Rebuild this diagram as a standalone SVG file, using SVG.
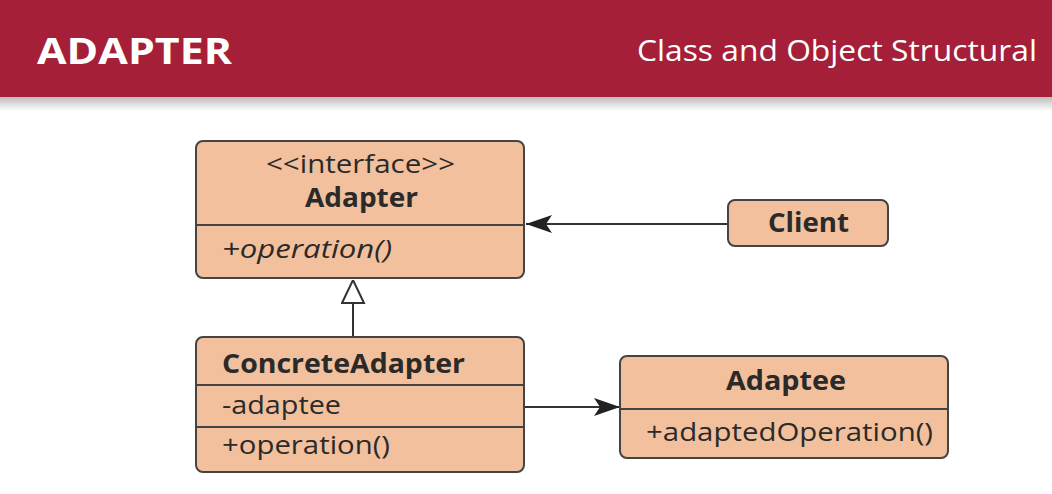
<svg xmlns="http://www.w3.org/2000/svg" width="1052" height="494" viewBox="0 0 1052 494">
<defs>
<linearGradient id="shadow" x1="0" y1="0" x2="0" y2="1">
<stop offset="0" stop-color="#bdbdbd"/>
<stop offset="1" stop-color="#ffffff"/>
</linearGradient>
<marker id="filled" viewBox="0 0 26 18" refX="26" refY="9" markerWidth="26" markerHeight="18" markerUnits="userSpaceOnUse" orient="auto">
<path d="M0,0 L26,9 L0,18 L6,9 Z" fill="#222"/>
</marker>
<marker id="hollow" viewBox="0 0 24 26" refX="24" refY="12" markerWidth="24" markerHeight="26" markerUnits="userSpaceOnUse" orient="auto">
<path d="M1,1 L24,12 L1,23 Z" fill="#fff" stroke="#333" stroke-width="2"/>
</marker>
</defs>
<style>
.box{fill:#F2C09C;stroke:#444;stroke-width:2}
.div{stroke:#444;stroke-width:2}
.t{font-family:"Open Sans",Lato,sans-serif;fill:#2a2a2a;font-size:26px}
.b{font-weight:bold}
.c{text-anchor:middle}
.edge{stroke:#333;stroke-width:2;fill:none}
.h{font-family:"Open Sans",Lato,sans-serif;fill:#fff}
</style>
<rect x="0" y="0" width="1052" height="494" fill="#fff"/>
<rect x="0" y="97" width="1052" height="14" fill="url(#shadow)"/>
<rect x="0" y="0" width="1052" height="97" fill="#A51F38"/>
<g id="header">
<text class="h" x="37" y="64" font-size="35" font-weight="bold" textLength="195" lengthAdjust="spacingAndGlyphs">ADAPTER</text>
<text class="h" x="637" y="61" font-size="29" textLength="400" lengthAdjust="spacingAndGlyphs">Class and Object Structural</text>
</g>
<g id="connectors">
<line class="edge" x1="728" y1="224" x2="526" y2="224" marker-end="url(#filled)"/>
<line class="edge" x1="524" y1="407" x2="620" y2="407" marker-end="url(#filled)"/>
<line class="edge" x1="353" y1="337" x2="353" y2="280" marker-end="url(#hollow)"/>
</g>
<g id="adapter">
<rect class="box" x="196" y="141" width="328" height="137" rx="7"/>
<line class="div" x1="196" y1="225" x2="524" y2="225"/>
<text class="t" x="266" y="173" font-size="22" textLength="189" lengthAdjust="spacingAndGlyphs">&lt;&lt;interface&gt;&gt;</text>
<text class="t b" x="305" y="207" font-size="24" textLength="113" lengthAdjust="spacingAndGlyphs">Adapter</text>
<text class="t" x="222" y="258" font-style="italic" textLength="170" lengthAdjust="spacingAndGlyphs">+operation()</text>
</g>
<g id="client">
<rect class="box" x="728" y="200" width="160" height="46" rx="7"/>
<text class="t b" x="768" y="232" textLength="81" lengthAdjust="spacingAndGlyphs">Client</text>
</g>
<g id="concreteadapter">
<rect class="box" x="196" y="337" width="328" height="135" rx="7"/>
<line class="div" x1="196" y1="385" x2="524" y2="385"/>
<line class="div" x1="196" y1="427" x2="524" y2="427"/>
<text class="t b" x="222" y="373" textLength="243" lengthAdjust="spacingAndGlyphs">ConcreteAdapter</text>
<text class="t" x="222" y="414" textLength="119" lengthAdjust="spacingAndGlyphs">-adaptee</text>
<text class="t" x="222" y="454" textLength="168" lengthAdjust="spacingAndGlyphs">+operation()</text>
</g>
<g id="adaptee">
<rect class="box" x="620" y="356" width="328" height="102" rx="7"/>
<line class="div" x1="620" y1="409" x2="948" y2="409"/>
<text class="t b" x="726" y="390" textLength="120" lengthAdjust="spacingAndGlyphs">Adaptee</text>
<text class="t" x="646" y="441" textLength="287" lengthAdjust="spacingAndGlyphs">+adaptedOperation()</text>
</g>
</svg>
